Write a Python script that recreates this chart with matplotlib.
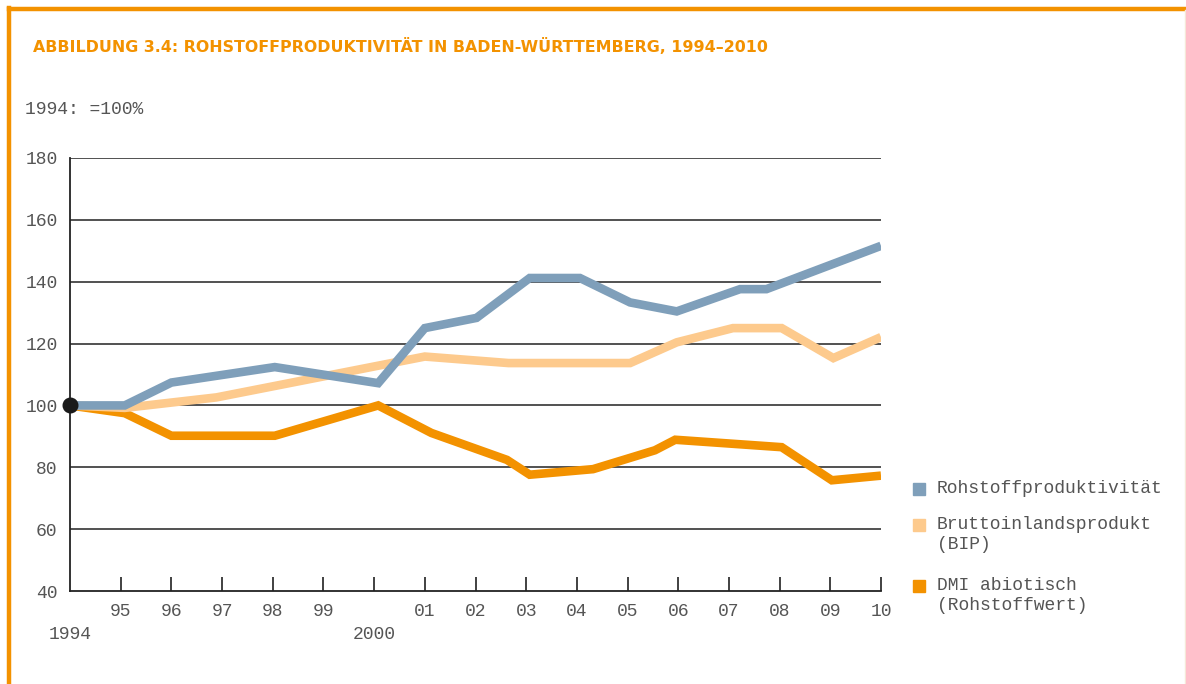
import matplotlib.pyplot as plt
from matplotlib.patches import Rectangle
from matplotlib.lines import Line2D
from matplotlib import font_manager

# Rohstoffproduktivitaet in Baden-Wuerttemberg, 1994 = 100
years_rp = [1994, 1995.08, 1996.0, 1998.04, 2000.08, 2001.0, 2002.02, 2003.07,
            2004.06, 2005.05, 2005.97, 2007.22, 2007.74, 2010.0]
rohstoffprod = [100, 100, 107.4, 112.4, 107.2, 125.0, 128.3, 141.2,
                141.2, 133.3, 130.4, 137.6, 137.6, 151.6]

years_bip = [1994, 1995.08, 1996.89, 2001.0, 2002.65, 2005.05, 2005.97,
             2007.08, 2008.04, 2009.06, 2010.0]
bip = [100, 99.2, 102.6, 115.8, 113.7, 113.7, 120.4, 125.0, 125.0, 115.3, 122.1]

years_dmi = [1994, 1995.08, 1996.0, 1998.04, 2000.08, 2001.13, 2002.62, 2003.07,
             2004.32, 2005.54, 2005.94, 2008.04, 2009.03, 2010.0]
dmi = [100, 97.5, 90.2, 90.2, 100.0, 91.1, 82.4, 77.6,
       79.4, 85.5, 88.9, 86.5, 75.8, 77.3]

tick_years = list(range(1995, 2011))
tick_labels = ["95", "96", "97", "98", "99", "", "01", "02", "03", "04",
               "05", "06", "07", "08", "09", "10"]
y_ticks = [40, 60, 80, 100, 120, 140, 160, 180]

legend_labels = ["Rohstoffproduktivität", "Bruttoinlandsprodukt\n(BIP)",
                 "DMI abiotisch\n(Rohstoffwert)"]

BLUE = "#7f9fba"
LIGHT = "#fdca8d"
ORANGE = "#f39200"
GRAY = "#555555"
MONO = "Liberation Mono"

W, H = 1186, 684

# narrow bold font for the title, by file if there is one
title_fp = None
for f in font_manager.fontManager.ttflist:
    if f.name == "Liberation Sans Narrow" and f.weight in (700, "bold") and f.style == "normal":
        title_fp = font_manager.FontProperties(fname=f.fname, size=17)
        break
if title_fp is None:
    title_fp = font_manager.FontProperties(family="DejaVu Sans", weight="bold", size=14.5)


def fx(px):
    return px / W


def fy(py):
    return 1 - py / H


fig = plt.figure(figsize=(W / 100, H / 100), dpi=100)
ax = fig.add_axes([fx(70), fy(591), fx(881) - fx(70), fy(158) - fy(591)])

lw = 6.2
ax.plot(years_dmi, dmi, color=ORANGE, lw=lw, solid_joinstyle="miter", solid_capstyle="butt", zorder=3)
ax.plot(years_bip, bip, color=LIGHT, lw=lw, solid_joinstyle="miter", solid_capstyle="butt", zorder=4)
ax.plot(years_rp, rohstoffprod, color=BLUE, lw=lw, solid_joinstyle="miter", solid_capstyle="butt", zorder=5)
ax.plot([1994], [100], "o", color="#1a1a1a", ms=10.5, clip_on=False, zorder=6)

ax.set_xlim(1994, 2010)
ax.set_ylim(40, 180)

for v in y_ticks[1:]:
    ax.axhline(v, color="#333333", lw=1.2, zorder=2)

for s in ["top", "right"]:
    ax.spines[s].set_visible(False)
for s in ["left", "bottom"]:
    ax.spines[s].set_color("#222222")
    ax.spines[s].set_linewidth(1.3)

ax.set_yticks(y_ticks)
ax.set_yticklabels([str(v) for v in y_ticks])
ax.tick_params(axis="y", length=0, pad=9, labelsize=13, labelcolor=GRAY)

ax.xaxis.remove_overlapping_locs = False
ax.set_xticks(tick_years)
ax.set_xticklabels(tick_labels)
ax.tick_params(axis="x", which="major", direction="in", length=10, width=1.3,
               color="#333333", pad=9, labelsize=13, labelcolor=GRAY)
ax.set_xticks([1994, 2000], minor=True)
ax.set_xticklabels(["1994", "2000"], minor=True)
ax.tick_params(axis="x", which="minor", length=0, pad=25, labelsize=13, labelcolor=GRAY)
for lab in ax.get_xticklabels(which="both") + ax.get_yticklabels():
    lab.set_family(MONO)

# frame of the figure
fig.add_artist(Line2D([fx(8.5), 1], [fy(9), fy(9)], color=ORANGE, lw=3.2))
fig.add_artist(Line2D([fx(8.5), fx(8.5)], [fy(7.5), 0], color=ORANGE, lw=3.2))
fig.add_artist(Line2D([fx(1185), fx(1185)], [fy(10), 0], color="#f5e8d8", lw=1))

title = fig.text(fx(33), fy(47), "ABBILDUNG 3.4: ROHSTOFFPRODUKTIVITÄT IN BADEN-WÜRTTEMBERG, 1994–2010",
                 color=ORANGE, fontproperties=title_fp, ha="left", va="center")
# the original title font is very condensed: fit the width (about 730 px)
renderer = fig.canvas.get_renderer()
width = title.get_window_extent(renderer).width
title.set_fontsize(title_fp.get_size() * 735 / width)

fig.text(fx(25), fy(110), "1994: =100%", color=GRAY, fontsize=13, family=MONO,
         ha="left", va="center")

# legend
colors = [BLUE, LIGHT, ORANGE]
rows = [489, 525, 586]
for c, r, lab in zip(colors, rows, legend_labels):
    fig.add_artist(Rectangle((fx(913), fy(r + 6)), fx(12), 12 / H, color=c,
                             transform=fig.transFigure))
    fig.text(fx(937), fy(r - 9), lab, color=GRAY, fontsize=13, family=MONO,
             ha="left", va="top", linespacing=1.25)

fig.savefig("out.png", dpi=100)
